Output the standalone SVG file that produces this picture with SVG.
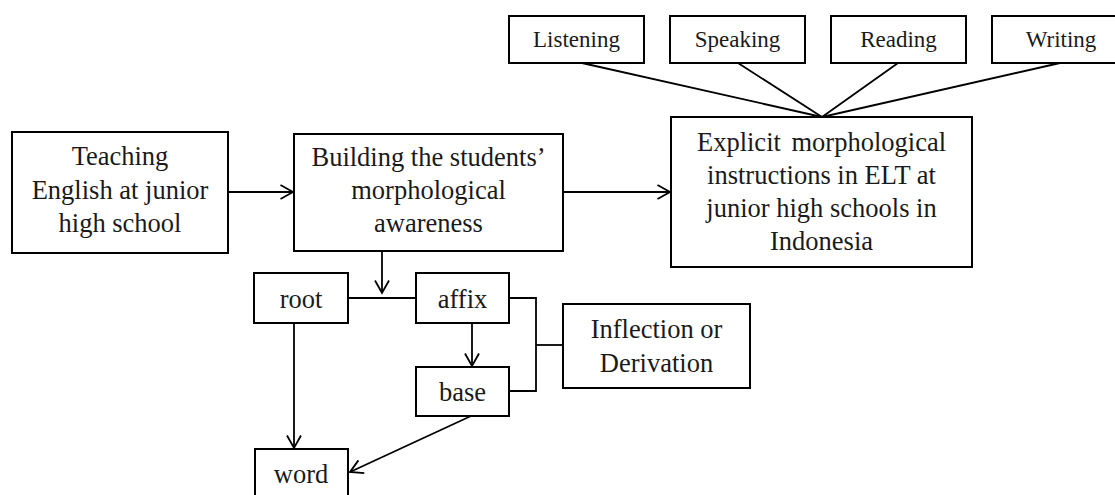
<svg xmlns="http://www.w3.org/2000/svg" width="1115" height="495" viewBox="0 0 1115 495">
<style>
rect{fill:#fff;stroke:#000;stroke-width:2}
text{font-family:"Liberation Serif","Times New Roman",serif;fill:#1a1a1a;text-anchor:middle}
.b{font-size:26.5px}
.s{font-size:23px}
.c line,.c polyline{stroke:#000;stroke-width:1.8;fill:none}
.a{marker-end:url(#ah)}
</style>
<defs>
<marker id="ah" markerUnits="userSpaceOnUse" markerWidth="16" markerHeight="16" viewBox="0 0 16 16" refX="14" refY="8" orient="auto">
<path d="M1.5,1 L14,8 L1.5,15" fill="none" stroke="#000" stroke-width="1.8"/>
</marker>
</defs>
<rect width="1115" height="495" style="stroke:none"/>
<g id="connectors" class="c">
<line class="a" x1="228" y1="192" x2="293" y2="192"/>
<line class="a" x1="563" y1="192" x2="670" y2="192"/>
<line x1="582" y1="63" x2="822" y2="117"/>
<line x1="738" y1="63" x2="822" y2="117"/>
<line x1="898" y1="63" x2="822" y2="117"/>
<line x1="1060" y1="63" x2="822" y2="117"/>
<line class="a" x1="382" y1="251" x2="382" y2="293"/>
<line x1="348" y1="298" x2="416" y2="298"/>
<line class="a" x1="472" y1="323" x2="472" y2="366"/>
<polyline points="509,298 536,298 536,391 509,391"/>
<line x1="536" y1="345" x2="563" y2="345"/>
<line class="a" x1="294" y1="323" x2="294" y2="448"/>
<line class="a" x1="471" y1="416" x2="350" y2="472"/>
</g>
<g id="teaching"><rect x="12" y="132" width="216" height="121"/>
<text class="b" x="120" y="165">Teaching</text><text class="b" x="120" y="199">English at junior</text><text class="b" x="120" y="232">high school</text></g>
<g id="building"><rect x="294" y="134" width="269" height="117"/>
<text class="b" x="428.5" y="166">Building the students’</text><text class="b" x="428.5" y="199">morphological</text><text class="b" x="428.5" y="232">awareness</text></g>
<g id="explicit"><rect x="671" y="117" width="301" height="150"/>
<text class="b" x="821.5" y="151" word-spacing="4">Explicit morphological</text><text class="b" x="821.5" y="184">instructions in ELT at</text><text class="b" x="821.5" y="217">junior high schools in</text><text class="b" x="821.5" y="250">Indonesia</text></g>
<g id="listening"><rect x="509" y="16" width="135" height="47"/><text class="s" x="576.5" y="47">Listening</text></g>
<g id="speaking"><rect x="670" y="16" width="135" height="47"/><text class="s" x="737.5" y="47">Speaking</text></g>
<g id="reading"><rect x="831" y="16" width="135" height="47"/><text class="s" x="898.5" y="47">Reading</text></g>
<g id="writing"><rect x="992" y="16" width="138" height="47"/><text class="s" x="1061" y="47">Writing</text></g>
<g id="root"><rect x="254" y="273" width="94" height="50"/><text class="b" x="301" y="308">root</text></g>
<g id="affix"><rect x="416" y="273" width="93" height="50"/><text class="b" x="462.5" y="308">affix</text></g>
<g id="base"><rect x="416" y="367" width="93" height="49"/><text class="b" x="462.5" y="401">base</text></g>
<g id="inflection"><rect x="563" y="304" width="187" height="84"/>
<text class="b" x="656.5" y="338">Inflection or</text><text class="b" x="656.5" y="372">Derivation</text></g>
<g id="word"><rect x="255" y="449" width="93" height="60"/><text class="b" x="301" y="483">word</text></g>
</svg>
